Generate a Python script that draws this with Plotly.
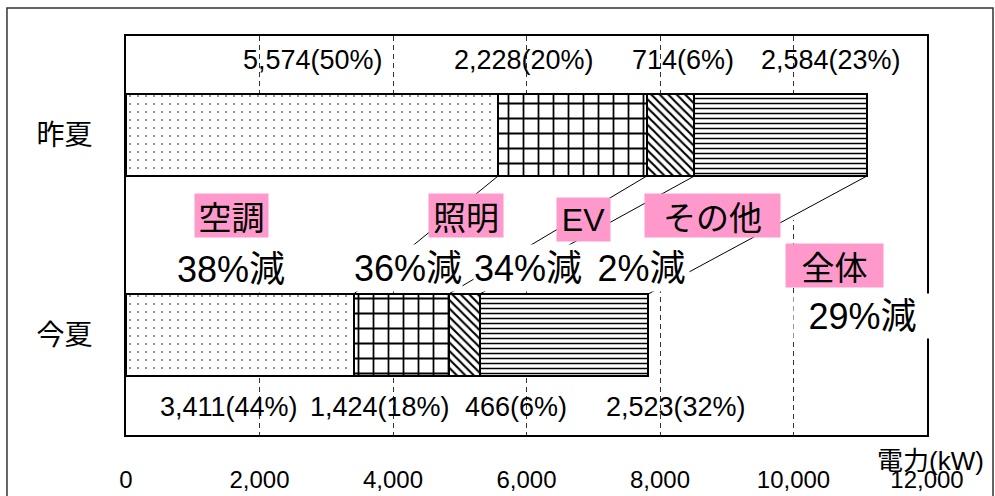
import numpy as np
import plotly.graph_objects as go

# ---------------- data ----------------
categories = ["昨夏", "今夏"]
uses = ["空調", "照明", "EV", "その他"]
last_summer = [5574, 2228, 714, 2584]
this_summer = [3411, 1424, 466, 2523]
last_share = ["50%", "20%", "6%", "23%"]
this_share = ["44%", "18%", "6%", "32%"]
reduction = ["38%", "36%", "34%", "2%"]
total_label = "全体"
total_reduction = "29%"
x_tick_values = [0, 2000, 4000, 6000, 8000, 10000, 12000]
axis_title = "電力(kW)"

# ---------------- styles / layout positions ----------------
LATIN = "Liberation Sans, Arial, Noto Sans CJK JP"
CJK = "Noto Sans CJK JP, Noto Sans CJK SC, sans-serif"
PINK = "#FF99CC"
BAR_W = 0.41

patterns = [
    dict(shape=".", size=8, solidity=0.03),
    dict(shape="+", size=15, solidity=0.22),
    dict(shape="\\", size=6, solidity=0.35),
    dict(shape="-", size=5, solidity=0.3),
]
top_label_x = [2797, 5962, 8340, 10567]
top_label_y = -0.375
bottom_label_x = [1537, 3802, 5850, 8235]
bottom_label_y = 1.36
use_label_pos = [(1582, 0.4025), (5100, 0.4025), (6848, 0.4225), (8783, 0.4025)]
use_label_w = [73, 74, 53, 135]
red_label_pos = [(1575, 0.67), (4230, 0.665), (6022, 0.665), (7718, 0.665)]
red_label_w = [110, 108, 108, 95]
total_label_pos = (10612, 0.6525)
total_red_pos = (11040, 0.907)

fig = go.Figure()

for i, use in enumerate(uses):
    pat = patterns[i]
    fig.add_trace(go.Bar(
        y=[0, 1],
        x=[last_summer[i], this_summer[i]],
        orientation="h",
        width=BAR_W,
        name=use,
        marker=dict(
            color="white",
            line=dict(color="black", width=2),
            pattern=dict(shape=pat["shape"], size=pat["size"], solidity=pat["solidity"],
                         fgcolor="black", bgcolor="white", fillmode="replace"),
        ),
        hoverinfo="skip",
        showlegend=False,
    ))

# connecting lines between segment ends
cum_last = np.cumsum(last_summer)
cum_this = np.cumsum(this_summer)
for i in range(len(uses)):
    fig.add_trace(go.Scatter(
        x=[cum_last[i], cum_this[i]],
        y=[BAR_W / 2, 1 - BAR_W / 2],
        mode="lines",
        line=dict(color="black", width=1),
        hoverinfo="skip",
        showlegend=False,
    ))

annotations = []
# value labels
for i in range(len(uses)):
    annotations.append(dict(
        x=top_label_x[i], y=top_label_y, xref="x", yref="y",
        text=f"{last_summer[i]:,}({last_share[i]})", showarrow=False,
        font=dict(family=LATIN, size=27, color="black"),
    ))
    annotations.append(dict(
        x=bottom_label_x[i], y=bottom_label_y, xref="x", yref="y",
        text=f"{this_summer[i]:,}({this_share[i]})", showarrow=False,
        font=dict(family=LATIN, size=27, color="black"),
    ))
# category (use) labels with pink boxes
for i, use in enumerate(uses):
    fam = LATIN if use.isascii() else CJK
    size = 32 if use.isascii() else 33
    annotations.append(dict(
        x=use_label_pos[i][0], y=use_label_pos[i][1], xref="x", yref="y",
        text=use, showarrow=False, bgcolor=PINK, borderpad=0,
        width=use_label_w[i], height=43,
        font=dict(family=fam, size=size, color="black"),
    ))
    annotations.append(dict(
        x=red_label_pos[i][0], y=red_label_pos[i][1], xref="x", yref="y",
        text=f"{reduction[i]}減", showarrow=False, bgcolor="white", borderpad=0,
        width=red_label_w[i], height=46,
        font=dict(family=LATIN, size=36, color="black"),
    ))
annotations.append(dict(
    x=total_label_pos[0], y=total_label_pos[1], xref="x", yref="y",
    text=total_label, showarrow=False, bgcolor=PINK, borderpad=0,
    width=97, height=43, font=dict(family=CJK, size=33, color="black"),
))
annotations.append(dict(
    x=total_red_pos[0], y=total_red_pos[1], xref="x", yref="y",
    text=f"{total_reduction}減", showarrow=False, bgcolor="white", borderpad=0,
    width=137, height=44, font=dict(family=LATIN, size=36, color="black"),
))
annotations.append(dict(
    x=1.004, y=-0.065, xref="paper", yref="paper",
    xanchor="center", yanchor="middle",
    text=axis_title, showarrow=False,
    font=dict(family=LATIN, size=26, color="black"),
))

shapes = [
    # white cover over gridlines between the two bars
    dict(type="rect", xref="x", yref="y", x0=0, x1=9000, y0=BAR_W / 2, y1=0.76,
         fillcolor="white", line=dict(width=0), layer="between"),
    dict(type="rect", xref="x", yref="y", x0=9000, x1=12000, y0=BAR_W / 2, y1=0.425,
         fillcolor="white", line=dict(width=0), layer="between"),
    # outer frame
    dict(type="rect", xref="paper", yref="paper", x0=-0.1486, x1=1.0824, y0=-0.25, y1=1.0702,
         line=dict(color="#333333", width=1.5), fillcolor="rgba(0,0,0,0)", layer="above"),
]

fig.update_layout(
    width=995, height=496,
    margin=dict(l=126, r=68, t=36, b=61, autoexpand=False),
    barmode="stack",
    plot_bgcolor="white",
    paper_bgcolor="white",
    annotations=annotations,
    shapes=shapes,
    showlegend=False,
)
fig.update_xaxes(
    range=[0, 12000],
    tickvals=x_tick_values,
    tickformat=",",
    tickfont=dict(family=LATIN, size=24, color="black"),
    ticks="",
    ticklabelstandoff=22,
    automargin=False,
    showgrid=True,
    gridcolor="#333333",
    gridwidth=1,
    griddash="5px,4px",
    showline=True, mirror=True, linecolor="black", linewidth=2,
    zeroline=False,
)
fig.update_yaxes(
    range=[1.5, -0.495],
    tickvals=[0, 1],
    ticktext=categories,
    tickfont=dict(family=CJK, size=28, color="black"),
    ticks="",
    ticklabelstandoff=26,
    automargin=False,
    showgrid=False,
    showline=True, mirror=True, linecolor="black", linewidth=2,
    zeroline=False,
)

fig.write_html(
    "out.html",
    config={"displayModeBar": False},
    post_script="document.body.style.margin='0px'; document.body.style.overflow='hidden';",
)
